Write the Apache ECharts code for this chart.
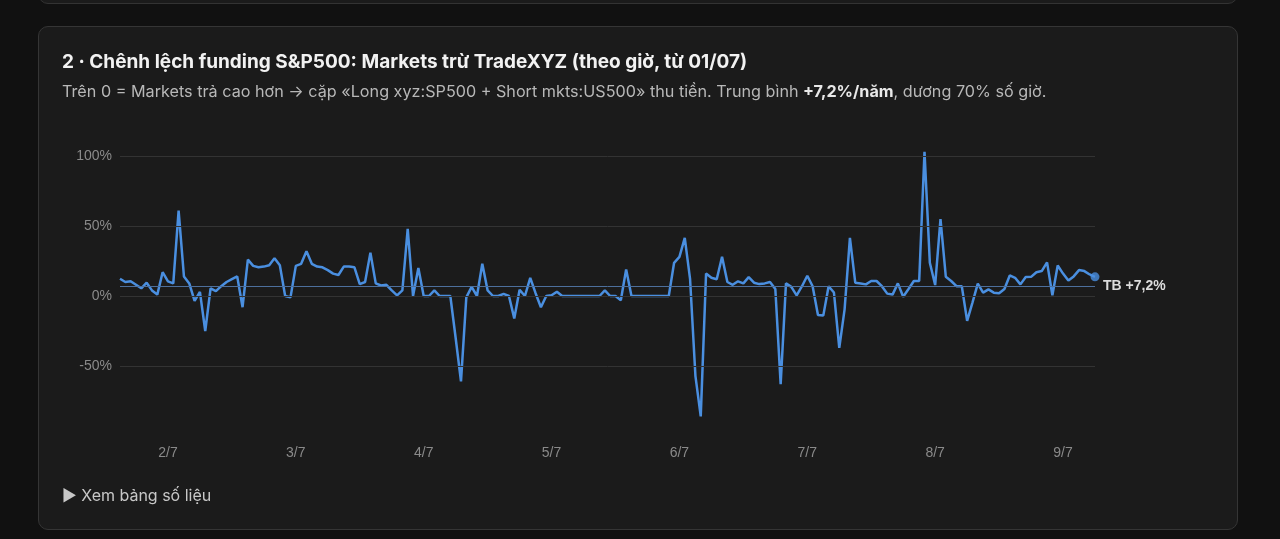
<!DOCTYPE html>
<html><head><meta charset="utf-8">
<script src="https://cdn.jsdelivr.net/npm/echarts@6/dist/echarts.min.js"></script>
<style>
html,body{margin:0;padding:0;background:#111;width:1280px;height:539px;overflow:hidden;font-family:Inter,"Noto Sans",sans-serif;}
.topcard{position:absolute;left:38px;top:-20px;width:1198px;height:22px;border:1px solid #333;border-radius:10px;background:#1b1b1b;}
.card{position:absolute;left:38px;top:26px;width:1198px;height:502px;border:1px solid #353535;border-radius:10px;background:#1b1b1b;}
.title{position:absolute;left:62px;top:50px;color:#f2f2f2;font-size:19px;font-weight:700;white-space:nowrap;}
.sub{position:absolute;left:62px;top:81px;color:#b8b8b8;font-size:16.2px;white-space:nowrap;}
.sub b{color:#e8e8e8;}
.more{position:absolute;left:62px;top:485px;color:#c8c8c8;font-size:16px;}
#chart{position:absolute;left:0;top:0;width:1280px;height:539px;}
</style></head><body>
<div class="topcard"></div>
<div class="card"></div>
<div id="chart"></div>
<div class="title">2 · Chênh lệch funding S&amp;P500: Markets trừ TradeXYZ (theo giờ, từ 01/07)</div>
<div class="sub">Trên 0 = Markets trả cao hơn → cặp «Long xyz:SP500 + Short mkts:US500» thu tiền. Trung bình <b>+7,2%/năm</b>, dương 70% số giờ.</div>
<div class="more">▶ Xem bảng số liệu</div>
<script>
const startHour = 15; // hours since 01/07 00:00
const spread = [
12.3,10,10.5,8,5.5,9.5,4,1,17,10.5,9,61,14,9,-3.5,3,-25,5.5,3.5,7,10,12,14,-8,26,21.5,20.5,21,22,27,22,0,-1,21.5,23,32,23,21,20.5,18.5,16,15,21,21,20.5,8.5,10,
31,9,7.5,8,4,0.5,4,48,0,20,0,0,4,0,0,0,-30,-61,-1,6.5,0,23,4,0,0,1.5,0,-16,4.5,0,13,2,-8,0,0.5,3,0,0,0,0,0,0,0,0,4,0,0,
-3,19,0,0,0,0,0,0,0,0,23.7,28,41.5,12,-57,-86,16,13,12,28,10,8,10.5,9,13.5,9.5,8.5,9,10,5,-63,9,6.5,0.5,7,14.5,7,-13.5,-14,7,2.5,-37,-9.5,41.5,9.5,9,8.3,
10.7,10.7,7,1.7,1,9,-0.5,5,10.7,10.7,103,23.7,7.8,55,13.7,10.7,7,7,-17.8,-4.7,8.8,2.4,4.7,2.4,1.9,5,14.7,13,8.3,13.5,13.7,17,17.8,24,0.5,21.8,16,11,14,18.5,17.8,15.4,13.7
];
const meanValue = 7.2;
const meanLabel = 'TB +7,2%';
const dayTicks = [24,48,72,96,120,144,168,192];
const yTicks = [100,50,0,-50];

const data = spread.map((v,i)=>[startHour+i, v]);
const last = data[data.length-1];
const chart = echarts.init(document.getElementById('chart'));
chart.setOption({
  animation:false,
  grid:{left:120,right:185,top:156,bottom:103},
  xAxis:{type:'value',min:startHour,max:startHour+spread.length-1,
    axisLine:{show:false},axisTick:{show:false},splitLine:{show:false},
    axisLabel:{customValues:dayTicks,color:'#8a8a8a',fontSize:14,margin:10,
      formatter:v=>(Math.round(v/24)+1)+'/7'}},
  yAxis:{type:'value',min:-100,max:100,splitLine:{show:false},
    axisLine:{show:false},axisTick:{show:false},
    axisLabel:{customValues:yTicks,color:'#8a8a8a',fontSize:14,margin:8,formatter:v=>v+'%'}},
  series:[
    {type:'line',data:data,showSymbol:false,lineStyle:{color:'#4a8fe0',width:2.5},clip:false,z:3,
     markLine:{silent:true,symbol:'none',animation:false,
       data:[
        ...yTicks.map(t=>({yAxis:t,lineStyle:{color:'#333',width:1,type:'solid'},label:{show:false}})),
        {yAxis:meanValue,lineStyle:{color:'#4d6f9c',width:1,type:'solid'},
         label:{show:true,position:'end',formatter:meanLabel,color:'#dcdcdc',fontSize:14,fontWeight:'bold',distance:8}}
       ]}},
    {type:'scatter',data:[last],symbolSize:9,itemStyle:{color:'#4a8fe0'},z:4}
  ]
});
</script>
</body></html>
